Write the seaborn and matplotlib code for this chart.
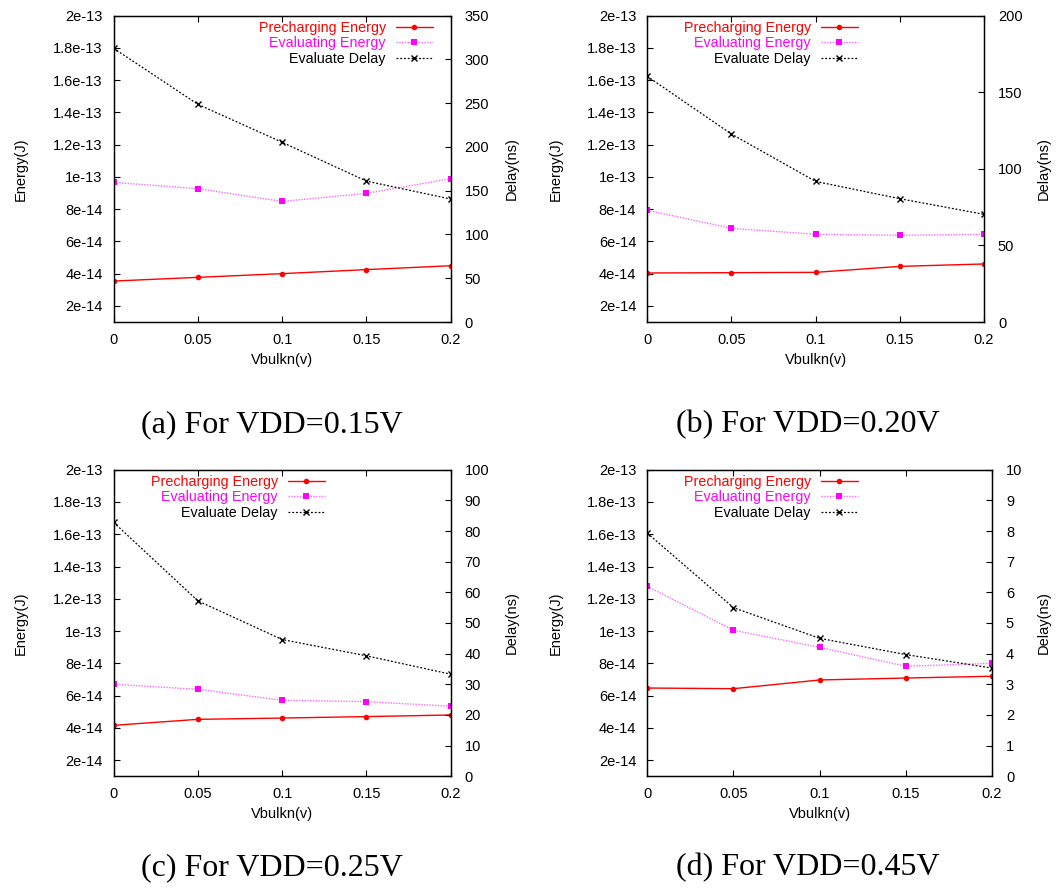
import matplotlib
matplotlib.use("Agg")
import matplotlib.pyplot as plt
import seaborn as sns
import numpy as np

# ---------------- data ----------------
vbulkn = [0.0, 0.05, 0.10, 0.15, 0.20]

# (a) VDD=0.15V
pre_a = [3.54e-14, 3.77e-14, 4.00e-14, 4.25e-14, 4.49e-14]
eva_a = [9.66e-14, 9.27e-14, 8.48e-14, 8.98e-14, 9.89e-14]
dly_a = [312.7, 248.7, 205.3, 161.0, 140.5]
# (b) VDD=0.20V
pre_b = [4.04e-14, 4.06e-14, 4.08e-14, 4.45e-14, 4.60e-14]
eva_b = [7.93e-14, 6.81e-14, 6.44e-14, 6.38e-14, 6.44e-14]
dly_b = [160.4, 122.7, 91.8, 80.5, 70.3]
# (c) VDD=0.25V
pre_c = [4.16e-14, 4.53e-14, 4.61e-14, 4.70e-14, 4.80e-14]
eva_c = [6.70e-14, 6.39e-14, 5.71e-14, 5.63e-14, 5.34e-14]
dly_c = [82.8, 57.2, 44.6, 39.3, 33.3]
# (d) VDD=0.45V
pre_d = [6.47e-14, 6.43e-14, 6.97e-14, 7.09e-14, 7.20e-14]
eva_d = [12.77e-14, 10.05e-14, 8.99e-14, 7.82e-14, 8.00e-14]
dly_d = [7.93, 5.50, 4.50, 3.97, 3.53]

captions = ["(a) For VDD=0.15V", "(b) For VDD=0.20V",
            "(c) For VDD=0.25V", "(d) For VDD=0.45V"]
series_names = ["Precharging Energy", "Evaluating Energy", "Evaluate Delay"]

x_ticks = [0, 0.05, 0.1, 0.15, 0.2]
x_ticklabels = ["0", "0.05", "0.1", "0.15", "0.2"]
energy_ticks = [2e-14, 4e-14, 6e-14, 8e-14, 1e-13, 1.2e-13, 1.4e-13, 1.6e-13, 1.8e-13, 2e-13]
energy_ticklabels = ["2e-14", "4e-14", "6e-14", "8e-14", "1e-13", "1.2e-13",
                     "1.4e-13", "1.6e-13", "1.8e-13", "2e-13"]
delay_ticks_a = [0, 50, 100, 150, 200, 250, 300, 350]
delay_ticks_b = [0, 50, 100, 150, 200]
delay_ticks_c = [0, 10, 20, 30, 40, 50, 60, 70, 80, 90, 100]
delay_ticks_d = [0, 1, 2, 3, 4, 5, 6, 7, 8, 9, 10]

# ---------------- style ----------------
sns.set_theme(style="ticks")
plt.rcParams["font.family"] = ["Liberation Sans", "DejaVu Sans"]
plt.rcParams["font.size"] = 10
for key in ["text.color", "axes.labelcolor", "xtick.color", "ytick.color"]:
    plt.rcParams[key] = "black"

W, H = 1062, 892
fig = plt.figure(figsize=(W / 100, H / 100), dpi=100)
fig.patch.set_facecolor("white")

# axes rectangles in pixels: left, top, right, bottom
rects = [
    (113.7, 15.7, 450.7, 322.0),
    (647.3, 15.7, 984.0, 322.0),
    (113.7, 469.7, 450.7, 776.3),
    (647.3, 469.7, 992.0, 776.3),
]
caption_pos = [(272, 425), (808, 425), (272, 868), (808, 868)]
legend_anchor = [(433, 21), (858, 21), (325, 475), (858, 475)]
left_label_x = [20, 555, 20, 555]
right_label_x = [511, 1043, 511, 1043]

panels = [
    (pre_a, eva_a, dly_a, delay_ticks_a),
    (pre_b, eva_b, dly_b, delay_ticks_b),
    (pre_c, eva_c, dly_c, delay_ticks_c),
    (pre_d, eva_d, dly_d, delay_ticks_d),
]

red = "#ff0000"
mag = "#ff00ff"
blk = "#000000"

for i, (pre, eva, dly, dticks) in enumerate(panels):
    l, t, r, b = rects[i]
    ax = fig.add_axes([l / W, 1 - b / H, (r - l) / W, (b - t) / H])
    ax2 = ax.twinx()

    sns.lineplot(x=vbulkn, y=pre, ax=ax, color=red, marker="o", markersize=4,
                 markeredgewidth=0, linewidth=1.0, label=series_names[0], legend=False)
    sns.lineplot(x=vbulkn, y=eva, ax=ax, color=mag, marker="s", markersize=5,
                 markeredgewidth=0, linewidth=1.0, linestyle=(0, (1, 1)),
                 label=series_names[1], legend=False)
    sns.lineplot(x=vbulkn, y=dly, ax=ax2, color=blk, marker="x", markersize=4,
                 markeredgewidth=1.0, markeredgecolor=blk, linewidth=0.9,
                 linestyle=(0, (1.5, 1.5)), label=series_names[2], legend=False)

    # evaluating line: lighter look, solid marker
    ax.lines[1].set_color("#ff66ff")
    ax.lines[1].set_markerfacecolor(mag)
    ax.lines[1].set_markeredgecolor(mag)
    ax.lines[0].set_markeredgecolor(red)
    ax.lines[0].set_markerfacecolor(red)

    ax.set_xlim(0, 0.2)
    ax.set_ylim(1e-14, 2e-13)
    ax2.set_ylim(dticks[0], dticks[-1])

    ax.set_xticks(x_ticks)
    ax.set_xticklabels(x_ticklabels)
    ax.set_yticks(energy_ticks)
    ax.set_yticklabels(energy_ticklabels)
    ax2.set_yticks(dticks)
    ax2.set_yticklabels([str(v) for v in dticks])

    ax.tick_params(axis="x", direction="in", top=True, bottom=True, length=4,
                   width=0.8, pad=8, labelsize=10.5, colors="black")
    ax.tick_params(axis="y", direction="in", left=True, right=False, length=4,
                   width=0.8, pad=8, labelsize=10.5, colors="black")
    ax2.tick_params(axis="y", direction="in", right=True, left=False, length=4,
                    width=0.8, pad=10, labelsize=10.5, colors="black")

    for ax_ in (ax, ax2):
        for s in ax_.spines.values():
            s.set_visible(True)
            s.set_linewidth(0.9)
            s.set_color("black")

    ax.set_xlabel("Vbulkn(v)", fontsize=10.5, color="black")
    ax.set_ylabel("Energy(J)", fontsize=10.5, color="black")
    ax2.set_ylabel("Delay(ns)", fontsize=10.5, rotation=90, color="black")
    ax.yaxis.set_label_coords((left_label_x[i] + 8 - l) / (r - l), 0.5)
    ax2.yaxis.set_label_coords((right_label_x[i] - 6 - l) / (r - l), 0.5)
    ax.xaxis.set_label_coords(0.5, -31 / (b - t))

    handles = ax.get_lines()[:2] + ax2.get_lines()[:1]
    lx, ly = legend_anchor[i]
    leg = ax2.legend(handles, series_names, loc="upper right",
                     bbox_to_anchor=(lx / W, 1 - ly / H),
                     bbox_transform=fig.transFigure,
                     frameon=False, markerfirst=False, fontsize=10.3,
                     handlelength=2.6, handletextpad=0.7, labelspacing=0.1,
                     borderpad=0, borderaxespad=0)
    for txt, c in zip(leg.get_texts(), [red, mag, blk]):
        txt.set_color(c)

    cx, cy = caption_pos[i]
    fig.text(cx / W, 1 - cy / H, captions[i], ha="center", va="center",
             fontsize=23, color="black", family=["Liberation Serif", "DejaVu Serif"])

fig.savefig("out.png", dpi=100, facecolor="white")
